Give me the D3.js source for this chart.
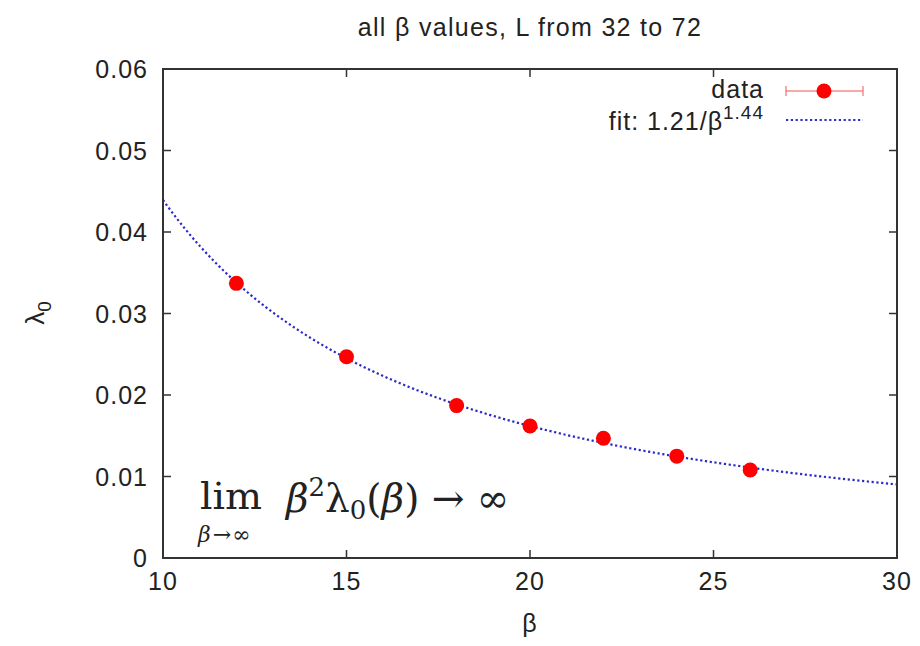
<!DOCTYPE html>
<html>
<head>
<meta charset="utf-8">
<script src="https://cdn.jsdelivr.net/npm/d3@7"></script>
<style>
  body { margin: 0; background: #fff; }
  svg text { font-family: "Liberation Sans", Arial, sans-serif; fill: #222; }
  .lbl { font-size: 25px; letter-spacing: 1px; }
</style>
</head>
<body>
<svg id="chart" width="920" height="646"></svg>
<script>
// data
const betas = [12, 15, 18, 20, 22, 24, 26];
const lambda0 = [0.0337, 0.0247, 0.0187, 0.0162, 0.0147, 0.0125, 0.0108];
const lambdaErr = [0.0004, 0.0003, 0.0003, 0.0002, 0.0002, 0.0002, 0.0002];
const xTicks = [10, 15, 20, 25, 30];
const yTicks = [0, 0.01, 0.02, 0.03, 0.04, 0.05, 0.06];
// fit: A / beta^B
const fitA = 1.21;
const fitB = 1.44;

const svg = d3.select("#chart");
const plotL = 163, plotR = 897, plotT = 69, plotB = 558;

const x = d3.scaleLinear().domain([10, 30]).range([plotL, plotR]);
const y = d3.scaleLinear().domain([0, 0.06]).range([plotB, plotT]);

// ticks (gnuplot style: inside, mirrored)
const tickLen = 8;
const g = svg.append("g");
xTicks.forEach(t => {
    g.append("line").attr("x1", x(t)).attr("x2", x(t)).attr("y1", plotB).attr("y2", plotB - tickLen)
        .attr("stroke", "#333").attr("stroke-width", 1.5);
    g.append("line").attr("x1", x(t)).attr("x2", x(t)).attr("y1", plotT).attr("y2", plotT + tickLen)
        .attr("stroke", "#333").attr("stroke-width", 1.5);
    g.append("text").attr("class", "lbl").attr("x", x(t)).attr("y", 590).attr("text-anchor", "middle").text(t);
});
yTicks.forEach(t => {
    g.append("line").attr("x1", plotL).attr("x2", plotL + tickLen).attr("y1", y(t)).attr("y2", y(t))
        .attr("stroke", "#333").attr("stroke-width", 1.5);
    g.append("line").attr("x1", plotR).attr("x2", plotR - tickLen).attr("y1", y(t)).attr("y2", y(t))
        .attr("stroke", "#333").attr("stroke-width", 1.5);
    g.append("text").attr("class", "lbl").attr("x", 148).attr("y", y(t) + 9).attr("text-anchor", "end")
        .text(t === 0 ? "0" : d3.format(".2f")(t));
});

// fit curve
const fitPts = d3.range(10, 30.001, 0.1).map(b => [b, fitA / Math.pow(b, fitB)]);
svg.append("path")
    .datum(fitPts)
    .attr("d", d3.line().x(d => x(d[0])).y(d => y(d[1])))
    .attr("fill", "none")
    .attr("stroke", "#2a2ac8")
    .attr("stroke-width", 2.2)
    .attr("stroke-dasharray", "2.2,2.6");

// data with error bars
const pts = betas.map((b, i) => ({ b, v: lambda0[i], e: lambdaErr[i] }));
svg.selectAll(".err").data(pts).enter().append("line")
    .attr("x1", d => x(d.b)).attr("x2", d => x(d.b))
    .attr("y1", d => y(d.v - d.e)).attr("y2", d => y(d.v + d.e))
    .attr("stroke", "#e33").attr("stroke-width", 1);
svg.selectAll(".pt").data(pts).enter().append("circle")
    .attr("cx", d => x(d.b)).attr("cy", d => y(d.v)).attr("r", 7.5)
    .attr("fill", "#f00");

// frame
svg.append("rect").attr("x", plotL).attr("y", plotT).attr("width", plotR - plotL).attr("height", plotB - plotT)
    .attr("fill", "none").attr("stroke", "#333").attr("stroke-width", 2);

// legend
svg.append("text").attr("class", "lbl").attr("x", 764).attr("y", 98).attr("text-anchor", "end").text("data");
svg.append("line").attr("x1", 786).attr("x2", 863).attr("y1", 91).attr("y2", 91).attr("stroke", "#e55").attr("stroke-width", 1);
svg.append("line").attr("x1", 786).attr("x2", 786).attr("y1", 86).attr("y2", 96).attr("stroke", "#e55").attr("stroke-width", 1);
svg.append("line").attr("x1", 863).attr("x2", 863).attr("y1", 86).attr("y2", 96).attr("stroke", "#e55").attr("stroke-width", 1);
svg.append("circle").attr("cx", 824).attr("cy", 91).attr("r", 7.5).attr("fill", "#f00");

const fitLabel = svg.append("text").attr("class", "lbl").attr("x", 764).attr("y", 130).attr("text-anchor", "end");
fitLabel.append("tspan").text("fit: 1.21/β");
fitLabel.append("tspan").attr("dy", -11).style("font-size", "19px").text("1.44");
svg.append("line").attr("x1", 786).attr("x2", 863).attr("y1", 120).attr("y2", 120)
    .attr("stroke", "#2a2ac8").attr("stroke-width", 2.2).attr("stroke-dasharray", "2.2,2.6");

// title and axis labels
svg.append("text").attr("class", "lbl").attr("x", 530).attr("y", 36).attr("text-anchor", "middle")
    .style("letter-spacing", "1.3px").text("all β values, L from 32 to 72");
svg.append("text").attr("class", "lbl").attr("x", 530).attr("y", 632).attr("text-anchor", "middle").text("β");
const yl = svg.append("text").attr("transform", "translate(44,313) rotate(-90)").attr("text-anchor", "middle")
    .style("font-size", "26px");
yl.append("tspan").text("λ");
yl.append("tspan").attr("dy", 7).style("font-size", "19px").text("0");

// annotation
const serif = '"DejaVu Serif", "Liberation Serif", serif';
svg.append("text").attr("x", 200).attr("y", 509).style("font-family", serif).style("font-size", "38px")
    .attr("textLength", 62).attr("lengthAdjust", "spacingAndGlyphs").text("lim");
const sub = svg.append("text").attr("x", 198).attr("y", 542).style("font-family", serif).style("font-size", "22px");
sub.append("tspan").style("font-style", "italic").text("β");
sub.append("tspan").attr("dx", 2).text("→");
sub.append("tspan").attr("dx", 1).text("∞");
const expr = svg.append("text").attr("x", 286).attr("y", 512).style("font-family", serif).style("font-size", "39px");
expr.append("tspan").style("font-style", "italic").text("β");
expr.append("tspan").attr("dy", -16).style("font-size", "26px").text("2");
expr.append("tspan").attr("dy", 16).text("λ");
expr.append("tspan").attr("dy", 7).style("font-size", "26px").text("0");
expr.append("tspan").attr("dy", -7).text("(");
expr.append("tspan").style("font-style", "italic").text("β");
expr.append("tspan").text(") → ∞");
</script>
</body>
</html>
